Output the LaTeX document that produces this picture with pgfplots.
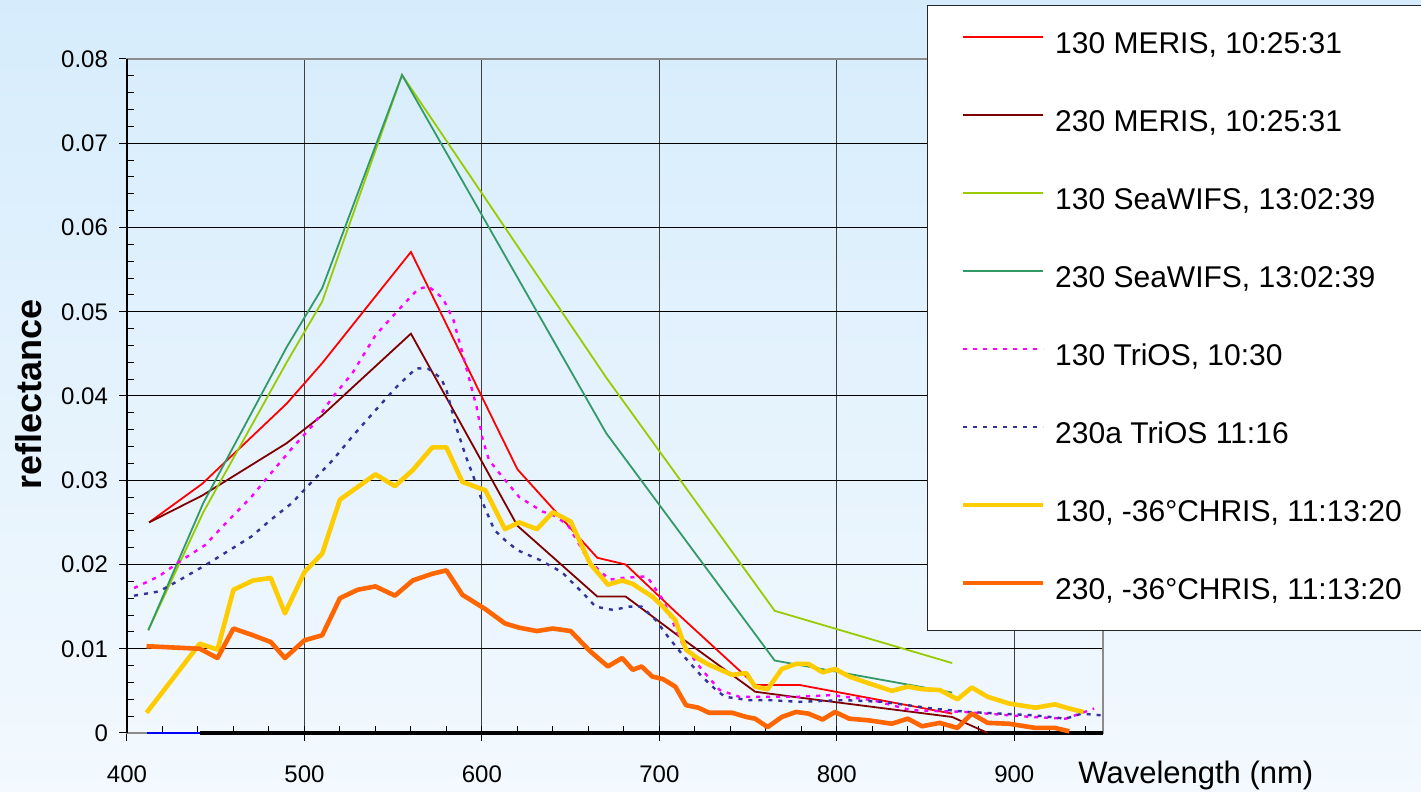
\documentclass[border=0pt]{standalone}
\usepackage{fontspec}
\setmainfont{Liberation Sans}
\usepackage{pgfplots}
\pgfplotsset{compat=1.18}

\definecolor{bgtop}{RGB}{214,236,252}
\definecolor{bgbot}{RGB}{243,249,254}
\definecolor{merisA}{RGB}{255,0,0}
\definecolor{merisB}{RGB}{128,0,0}
\definecolor{seaA}{RGB}{153,204,0}
\definecolor{seaB}{RGB}{51,153,102}
\definecolor{triosA}{RGB}{255,0,255}
\definecolor{triosB}{RGB}{51,51,153}
\definecolor{chrisA}{RGB}{255,204,0}
\definecolor{chrisB}{RGB}{255,102,0}

\begin{document}
\begin{tikzpicture}
\useasboundingbox (0,0) rectangle (710.5pt,396pt);
\shade[top color=bgtop, bottom color=bgbot] (0,0) rectangle (710.5pt,396pt);
\clip (0,0) rectangle (710.5pt,396pt);
\begin{axis}[
  at={(63.5pt,29.5pt)}, anchor=south west,
  scale only axis, width=488pt, height=337pt,
  clip=false,
  xmin=400, xmax=950, ymin=0, ymax=0.08,
  scaled x ticks=false, scaled y ticks=false,
  xtick={400,500,600,700,800,900},
  xticklabels={400,500,600,700,800,900},
  minor xtick={420,440,...,940},
  ytick={0,0.01,0.02,0.03,0.04,0.05,0.06,0.07,0.08},
  yticklabels={0,0.01,0.02,0.03,0.04,0.05,0.06,0.07,0.08},
  minor ytick={0.002,0.004,0.006,0.008,0.012,0.014,0.016,0.018,0.022,0.024,0.026,0.028,0.032,0.034,0.036,0.038,0.042,0.044,0.046,0.048,0.052,0.054,0.056,0.058,0.062,0.064,0.066,0.068,0.072,0.074,0.076,0.078},
  xtick pos=lower, ytick pos=lower,
  tick align=inside,
  major tick length=4pt, minor tick length=3.5pt,
  every major x tick/.append style={yshift=-4pt},
  every major y tick/.append style={xshift=-4pt},
  tick style={black, line width=0.5pt},
  xmajorgrids, ymajorgrids,
  x grid style={black!75, line width=0.5pt},
  y grid style={black, line width=0.5pt},
  axis line style={draw=black!45, line width=0.9pt},
  ticklabel style={font=\fontsize{12}{14}\selectfont},
  xticklabel style={anchor=center, yshift=-20.5pt},
  yticklabel style={anchor=east, xshift=-6pt},
  xlabel={Wavelength (nm)},
  xlabel style={at={(axis description cs:0.9744,-0.0742)}, anchor=base west, inner sep=0pt, font=\fontsize{15.5}{18}\selectfont},
  ylabel={reflectance},
  ylabel style={at={(axis description cs:-0.0871,0.5022)}, anchor=base, inner sep=0pt, font=\fontsize{18}{21}\selectfont\bfseries},
  legend cell align=left,
  legend image code/.code={\draw[#1] (0pt,4pt) -- (40pt,4pt);},
  legend style={
    at={(axis description cs:0.8197,1.0801)}, anchor=north west,
    draw=black!85, fill=white, line width=0.6pt,
    font=\fontsize{15}{18}\selectfont,
    inner xsep=16.5pt, inner ysep=12.75pt,
    row sep=25pt,
    nodes={inner sep=0pt, text height=11pt, text depth=3pt},
    /tikz/every odd column/.append style={column sep=5pt},
  },
]

% zero-level traces along the wavelength axis
\addplot[blue, line width=1pt, forget plot] coordinates {(411,0) (441,0)};
\addplot[black, line width=1.6pt, forget plot] coordinates {(441,0) (950,0)};
\addplot[black, line width=0.6pt, forget plot] coordinates {(400,0) (400,0.08)};

% MERIS
\addplot[merisA, line width=0.9pt] coordinates {
(412.5,0.0250) (442.5,0.0296) (490,0.0391) (510,0.0439) (560,0.0571)
(620,0.0313) (665,0.0208) (681,0.0200) (709,0.0144) (754,0.0057)
(761,0.0057) (779,0.0057) (865,0.0023)};
\addlegendentry{130 MERIS, 10:25:31}

\addplot[merisB, line width=0.9pt] coordinates {
(412.5,0.0250) (442.5,0.0282) (490,0.0344) (510,0.0377) (560,0.0474)
(620,0.0246) (665,0.0162) (681,0.0162) (709,0.0118) (754,0.0049)
(761,0.0047) (779,0.0042) (865,0.0019) (885,0.0000)};
\addlegendentry{230 MERIS, 10:25:31}

% SeaWiFS
\addplot[seaA, line width=0.9pt] coordinates {
(412,0.0122) (443,0.0262) (490,0.0440) (510,0.0512) (555,0.0781)
(670,0.0422) (765,0.0145) (865,0.0083)};
\addlegendentry{130 SeaWIFS, 13:02:39}

\addplot[seaB, line width=0.9pt] coordinates {
(412,0.0122) (443,0.0273) (490,0.0458) (510,0.0528) (555,0.0781)
(670,0.0356) (765,0.0086) (865,0.0048)};
\addlegendentry{230 SeaWIFS, 13:02:39}

% TriOS
\addplot[triosA, line width=1.2pt, dash pattern=on 2pt off 3pt] coordinates {
(404,0.0172) (418,0.0186) (430,0.0204) (444,0.0223) (457,0.0252)
(470,0.0280) (481,0.0308) (493,0.0338) (505,0.0366) (516,0.0399)
(527,0.0427) (540,0.0472) (552,0.0500) (564,0.0527) (570,0.0530)
(578,0.0516) (584,0.0490) (588,0.0459) (593,0.0419) (597,0.0387)
(600.5,0.0348) (604,0.0324) (610,0.0308) (621,0.0280) (634,0.0263)
(642,0.0257) (649,0.0245) (660,0.0205) (672,0.0182) (679,0.0184)
(693,0.0186) (702,0.0158) (713,0.0106) (724,0.0075) (734,0.0051)
(745,0.0043) (762,0.0043) (778,0.0043) (797,0.0045) (820,0.0039)
(842,0.0027) (872,0.0025) (910,0.0019) (929,0.0017) (945,0.0029)};
\addlegendentry{130 TriOS, 10:30}

\addplot[triosB, line width=1.2pt, dash pattern=on 2pt off 3pt] coordinates {
(404,0.0163) (418,0.0168) (430,0.0182) (444,0.0199) (457,0.0216)
(470,0.0233) (481,0.0253) (493,0.0273) (505,0.0300) (516,0.0324)
(527,0.0352) (540,0.0383) (552,0.0411) (563,0.0433) (570,0.0432)
(577,0.0421) (580,0.0407) (586,0.0360) (591,0.0328) (596,0.0300)
(600.5,0.0273) (607,0.0241) (613,0.0229) (620,0.0217) (633,0.0205)
(645,0.0191) (657,0.0166) (664,0.0150) (674,0.0146) (683,0.0150)
(690,0.0150) (698,0.0134) (705,0.0114) (713,0.0093) (724,0.0067)
(732,0.0051) (737,0.0043) (750,0.0039) (762,0.0039) (779,0.0037)
(804,0.0039) (826,0.0037) (854,0.0029) (874,0.0025) (911,0.0021)
(929,0.0017) (938,0.0023) (949,0.0021)};
\addlegendentry{230a TriOS 11:16}

% CHRIS
\addplot[chrisA, line width=2.3pt, line join=round] coordinates {
(411,0.0024) (441,0.0106) (451,0.0099) (460,0.0170) (471,0.0181)
(481,0.0184) (489,0.0142) (500,0.0191) (510,0.0213) (520,0.0277)
(530,0.0292) (540,0.0307) (551,0.0293) (561,0.0312) (572,0.0339)
(580,0.0339) (589,0.0298) (602,0.0288) (613,0.0242) (621,0.0250)
(631,0.0242) (640,0.0262) (650,0.0251) (661,0.0201) (671,0.0176)
(679,0.0181) (685,0.0177) (690,0.0170) (696,0.0162) (702,0.0150)
(709,0.0134) (715,0.0099) (722,0.0088) (728,0.0081) (741,0.0069)
(749,0.0071) (754,0.0055) (761,0.0052) (769,0.0076) (777,0.0082)
(784,0.0082) (792,0.0072) (799,0.0076) (807,0.0067) (818,0.0059)
(831,0.0050) (840,0.0055) (848,0.0052) (858,0.0051) (868,0.0040)
(876,0.0054) (885,0.0043) (897,0.0035) (912,0.0030) (923,0.0034)
(931,0.0029) (939,0.0025)};
\addlegendentry{130, -36°CHRIS, 11:13:20}

\addplot[chrisB, line width=2.3pt, line join=round] coordinates {
(411,0.0103) (441,0.0100) (451,0.0089) (460,0.0124) (471,0.0116)
(481,0.0108) (489,0.0089) (500,0.0110) (510,0.0116) (520,0.0160)
(530,0.0170) (540,0.0174) (551,0.0163) (561,0.0181) (572,0.0189)
(580,0.0193) (589,0.0164) (602,0.0147) (613,0.0130) (621,0.0125)
(631,0.0121) (640,0.0124) (650,0.0121) (661,0.0097) (671,0.0079)
(679,0.0089) (685,0.0075) (690,0.0079) (696,0.0067) (702,0.0064)
(709,0.0055) (715,0.0033) (722,0.0030) (728,0.0024) (741,0.0024)
(749,0.0019) (754,0.0017) (761,0.0007) (769,0.0019) (777,0.0025)
(784,0.0023) (792,0.0016) (799,0.0025) (807,0.0017) (818,0.0015)
(831,0.0011) (840,0.0017) (848,0.0008) (858,0.0012) (868,0.0006)
(876,0.0023) (885,0.0012) (897,0.0011) (912,0.0006) (923,0.0006)
(931,0.0002)};
\addlegendentry{230, -36°CHRIS, 11:13:20}

\end{axis}
\end{tikzpicture}
\end{document}
